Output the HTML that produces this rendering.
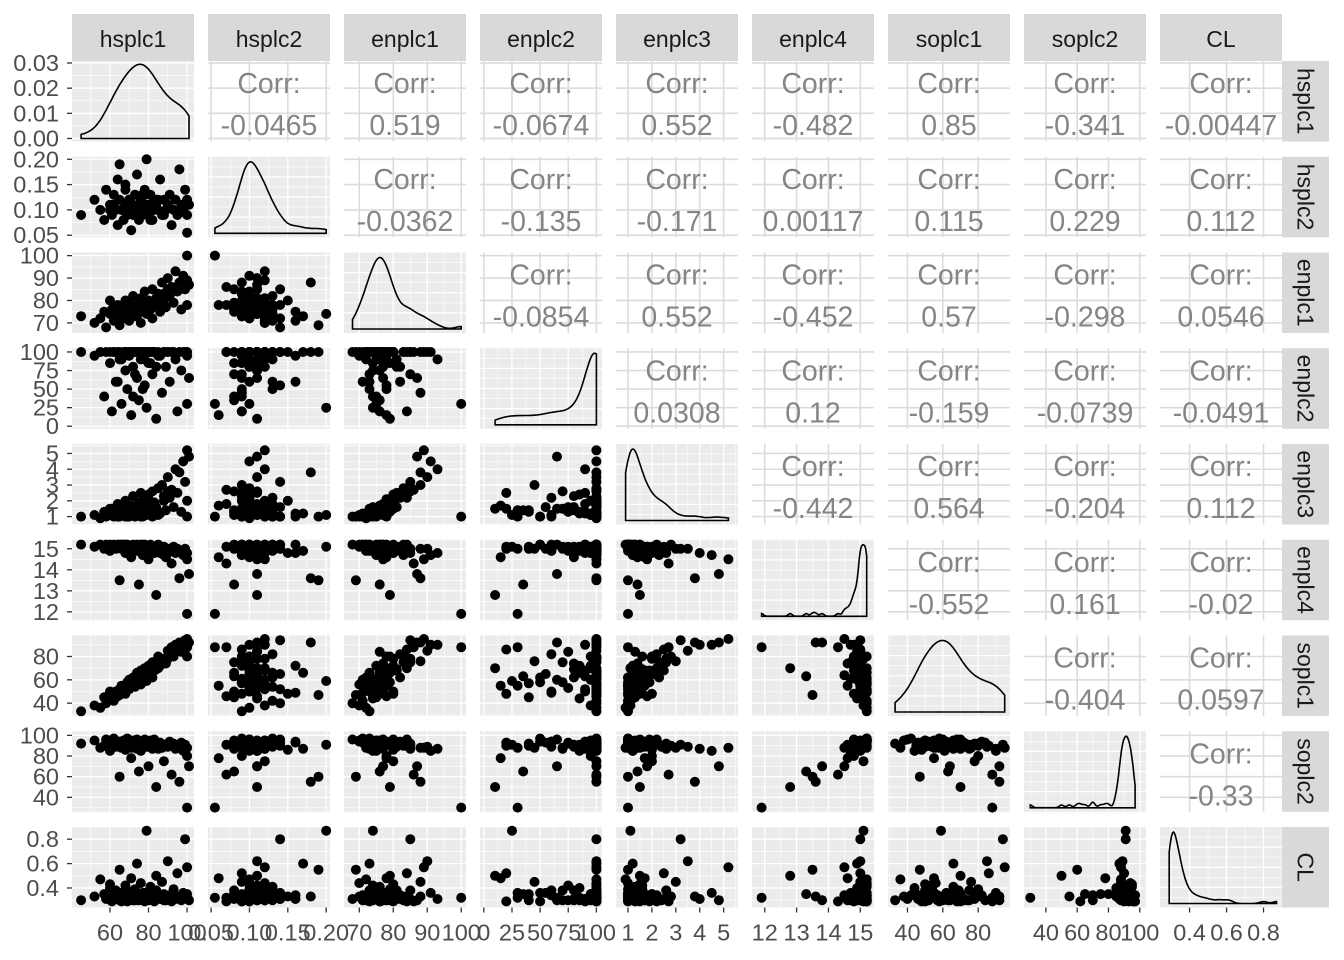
<!DOCTYPE html>
<html><head><meta charset="utf-8"><style>
html,body{margin:0;padding:0;background:#fff;}
svg{display:block;font-family:"Liberation Sans",sans-serif;}
</style></head><body>
<svg id="chart" width="1344" height="960" xmlns="http://www.w3.org/2000/svg"></svg>
<script>
const varNames = ["hsplc1","hsplc2","enplc1","enplc2","enplc3","enplc4","soplc1","soplc2","CL"];
const hsplc1 = [45,52,55,57,58,60,61,62,63,64,65,65,66,67,68,68,69,70,70,71,72,72,73,74,74,75,75,76,76,77,78,78,79,80,80,81,82,82,83,84,85,86,87,88,89,90,91,92,93,94,95,96,97,98,99,100,100,100,101,60,62,66,70,73,75,77,79,81,83,85,68,72,76,80,84,88,64,71,78,90];
const hsplc2 = [0.09,0.12,0.10,0.08,0.14,0.11,0.09,0.13,0.10,0.07,0.12,0.19,0.10,0.08,0.11,0.15,0.09,0.10,0.12,0.06,0.11,0.10,0.13,0.09,0.17,0.10,0.08,0.12,0.11,0.09,0.14,0.10,0.20,0.11,0.09,0.13,0.10,0.08,0.12,0.11,0.10,0.16,0.09,0.12,0.10,0.11,0.13,0.07,0.10,0.12,0.09,0.18,0.11,0.10,0.14,0.055,0.12,0.09,0.11,0.10,0.11,0.10,0.12,0.09,0.10,0.13,0.11,0.08,0.10,0.12,0.14,0.09,0.11,0.10,0.12,0.09,0.16,0.10,0.13,0.11];
const enplc1 = [73,70,72,75,68,74,76,71,73,78,72,69,75,77,74,80,73,76,71,78,75,82,74,77,73,79,76,70,81,75,78,84,74,77,80,76,72,85,78,79,83,75,88,80,77,90,82,86,79,93,84,88,76,91,85,100,89,78,87,80,74,76,75,73,77,78,76,79,80,77,72,74,75,78,81,83,71,76,77,85];
const enplc2 = [100,95,100,40,100,85,20,100,60,100,90,100,30,100,75,100,50,100,95,15,100,80,100,65,100,100,35,100,90,100,55,100,25,100,85,100,100,70,100,10,100,95,45,100,80,100,60,100,100,90,20,100,75,100,100,30,100,95,65,100,100,90,100,70,100,50,100,85,100,95,100,40,100,100,80,100,60,100,90,100];
const enplc3 = [1.0,1.1,0.9,1.3,1.0,1.2,1.5,1.0,1.1,1.8,1.2,1.0,1.4,1.1,1.6,2.0,1.0,1.3,1.2,1.7,1.1,2.3,1.0,1.5,1.2,1.9,1.4,1.0,2.5,1.2,1.6,2.2,1.1,1.8,2.4,1.3,1.0,2.6,1.7,1.5,2.8,1.2,3.0,2.0,1.4,3.5,2.2,2.7,1.6,4.0,2.5,3.8,1.3,4.5,3.2,1.0,5.2,2.0,4.8,1.5,1.1,1.3,1.0,1.5,1.2,1.0,1.7,1.3,1.9,1.1,1.0,1.4,1.2,2.1,1.6,2.3,1.0,1.2,1.8,2.6];
const enplc4 = [15.2,15.1,15.2,15.0,15.2,14.9,15.1,15.2,15.0,15.1,15.2,13.5,15.0,15.2,15.1,14.8,15.2,15.0,15.1,14.6,15.2,15.0,15.1,15.2,14.9,15.0,13.3,15.2,15.1,14.7,15.0,15.2,15.1,14.5,15.0,15.2,14.9,15.0,15.1,12.8,15.2,14.8,15.0,15.1,14.6,15.0,14.9,14.3,15.1,14.8,15.0,13.6,14.9,14.7,15.0,11.9,14.5,14.8,13.8,15.2,15.1,15.2,15.0,15.1,14.9,15.2,15.0,15.1,14.8,15.0,15.2,15.1,15.0,14.9,15.1,14.7,15.2,15.0,15.1,14.8];
const soplc1 = [33,38,36,45,40,44,48,42,50,46,52,47,55,50,53,48,58,52,60,55,57,62,54,60,66,58,63,56,68,61,65,70,59,64,72,66,62,75,68,70,80,72,76,78,74,85,82,88,80,90,86,92,84,90,94,88,95,80,92,50,46,50,55,58,60,62,64,66,68,70,52,57,61,65,69,75,49,56,63,78];
const soplc2 = [92,95,88,90,96,85,93,97,89,91,94,60,88,95,92,86,97,90,93,78,95,91,89,96,87,92,65,94,90,88,93,96,91,70,89,95,92,87,94,50,90,93,88,75,91,89,94,62,92,87,90,55,93,85,91,30,88,80,70,95,93,90,95,88,92,94,89,91,96,87,90,92,85,93,89,91,94,88,90,92];
const CL = [0.30,0.33,0.47,0.35,0.31,0.40,0.29,0.34,0.38,0.32,0.30,0.55,0.36,0.31,0.42,0.33,0.29,0.37,0.30,0.48,0.34,0.31,0.39,0.32,0.60,0.30,0.35,0.44,0.31,0.33,0.36,0.29,0.87,0.34,0.30,0.41,0.32,0.38,0.30,0.50,0.33,0.31,0.45,0.35,0.30,0.62,0.34,0.29,0.39,0.31,0.52,0.33,0.30,0.36,0.80,0.32,0.57,0.35,0.30,0.43,0.31,0.29,0.34,0.30,0.33,0.36,0.30,0.32,0.29,0.35,0.31,0.30,0.33,0.31,0.38,0.30,0.34,0.32,0.30,0.31];
const corrLabels = [
 [null,"-0.0465","0.519","-0.0674","0.552","-0.482","0.85","-0.341","-0.00447"],
 [null,null,"-0.0362","-0.135","-0.171","0.00117","0.115","0.229","0.112"],
 [null,null,null,"-0.0854","0.552","-0.452","0.57","-0.298","0.0546"],
 [null,null,null,null,"0.0308","0.12","-0.159","-0.0739","-0.0491"],
 [null,null,null,null,null,"-0.442","0.564","-0.204","0.112"],
 [null,null,null,null,null,null,"-0.552","0.161","-0.02"],
 [null,null,null,null,null,null,null,"-0.404","0.0597"],
 [null,null,null,null,null,null,null,null,"-0.33"]
];
const axisRanges = [[40.3,103.6],[0.046,0.205],[65.5,101.4],[-3.4,105],[0.5,5.6],[11.6,15.43],[29,98],[26,104],[0.24,0.9]];
const tickValues = [[60,80,100],[0.05,0.10,0.15,0.20],[70,80,90,100],[0,25,50,75,100],[1,2,3,4,5],[12,13,14,15],[40,60,80],[40,60,80,100],[0.4,0.6,0.8]];
const tickLabels = [["60","80","100"],["0.05","0.10","0.15","0.20"],["70","80","90","100"],["0","25","50","75","100"],["1","2","3","4","5"],["12","13","14","15"],["40","60","80"],["40","60","80","100"],["0.4","0.6","0.8"]];
const densTicks = [0,0.01,0.02,0.03];
const densTickLabels = ["0.00","0.01","0.02","0.03"];
const densRange = [-0.0012,0.0308];

const data = [hsplc1,hsplc2,enplc1,enplc2,enplc3,enplc4,soplc1,soplc2,CL];
const svg = document.getElementById('chart');
const NS = "http://www.w3.org/2000/svg";
const X0=72, Y0=61, STEPX=136, STEPY=95.75, PW=122, PH=80.5;
function mk(tag, attrs, parent){const e=document.createElementNS(NS,tag);for(const k in attrs)e.setAttribute(k,attrs[k]);(parent||svg).appendChild(e);return e;}
function sx(c,v){const r=axisRanges[c];return X0+c*STEPX+(v-r[0])/(r[1]-r[0])*PW;}
function sy(r,v){const a=axisRanges[r];return Y0+r*STEPY+PH-(v-a[0])/(a[1]-a[0])*PH;}
function dy(v){return Y0+PH-(v-densRange[0])/(densRange[1]-densRange[0])*PH;}
function minors(t){const m=[];for(let i=0;i<t.length-1;i++)m.push((t[i]+t[i+1])/2);if(t.length>1){m.unshift(t[0]-(t[1]-t[0])/2);m.push(t[t.length-1]+(t[1]-t[0])/2);}return m;}
function kde(arr){const n=arr.length;const mean=arr.reduce((a,b)=>a+b,0)/n;const sd=Math.sqrt(arr.reduce((a,b)=>a+(b-mean)**2,0)/(n-1));const s=[...arr].sort((a,b)=>a-b);const q=p=>{const h=(n-1)*p,l=Math.floor(h);return s[l]+(h-l)*((s[l+1]||s[l])-s[l]);};const iqr=q(0.75)-q(0.25);const bw=0.9*Math.min(sd,iqr/1.34||sd)*Math.pow(n,-0.2);const lo=s[0],hi=s[n-1];const pts=[];for(let i=0;i<=100;i++){const x=lo+(hi-lo)*i/100;let d=0;for(const v of arr)d+=Math.exp(-0.5*((x-v)/bw)**2);d/=n*bw*Math.sqrt(2*Math.PI);pts.push([x,d]);}return pts;}

for(let r=0;r<9;r++){
 for(let c=0;c<9;c++){
  const px=X0+c*STEPX, py=Y0+r*STEPY;
  const g=mk('g',{});
  
  
  const xr=axisRanges[c];
  const inX=v=>v>=xr[0]&&v<=xr[1];
  if(c>r){
   mk('rect',{x:px,y:py,width:PW,height:PH,fill:'#fff'},g);
   for(const t of tickValues[c]) if(inX(t)){const x=sx(c,t);mk('line',{x1:x,x2:x,y1:py,y2:py+PH,stroke:'#dcdcdc','stroke-width':1.6},g);}
   const yt = r===0?densTicks:tickValues[r];
   for(const t of yt){const y=r===0?dy(t):sy(r,t);if(y>=py&&y<=py+PH)mk('line',{x1:px,x2:px+PW,y1:y,y2:y,stroke:'#dcdcdc','stroke-width':1.6},g);}
   const t1=mk('text',{x:px+PW/2,y:py+32,'text-anchor':'middle','font-size':28.5,fill:'#858585'},g);t1.textContent='Corr:';
   
   
   const t2=mk('text',{x:px+PW/2,y:py+74,'text-anchor':'middle','font-size':28.5,fill:'#858585'},g);t2.textContent=corrLabels[r][c];
   
   
   continue;
  }
  mk('rect',{x:px,y:py,width:PW,height:PH,fill:'#ebebeb'},g);
  const tx=tickValues[c];
  for(const t of minors(tx)) if(inX(t)){const x=sx(c,t);mk('line',{x1:x,x2:x,y1:py,y2:py+PH,stroke:'#fff','stroke-width':0.6},g);}
  for(const t of tx) if(inX(t)){const x=sx(c,t);mk('line',{x1:x,x2:x,y1:py,y2:py+PH,stroke:'#fff','stroke-width':1.3},g);}
  const yt = (r===0)?densTicks:(c===r?null:tickValues[r]);
  if(yt){
   const yf=r===0?dy:(v=>sy(r,v));
   for(const t of minors(yt)){const y=yf(t);if(y>=py&&y<=py+PH)mk('line',{x1:px,x2:px+PW,y1:y,y2:y,stroke:'#fff','stroke-width':0.6},g);}
   for(const t of yt){const y=yf(t);if(y>=py&&y<=py+PH)mk('line',{x1:px,x2:px+PW,y1:y,y2:y,stroke:'#fff','stroke-width':1.3},g);}
  } else {
   for(let i=1;i<8;i++){const y=py+PH*i/8;mk('line',{x1:px,x2:px+PW,y1:y,y2:y,stroke:'#fff','stroke-width':i%2?0.6:1.3},g);}
  }
  if(c===r){
   const pts=kde(data[c]);
   const mx=Math.max(...pts.map(p=>p[1]));
   const yf = r===0 ? (d=>dy(d)) : (d=>py+PH-4-d/mx*(PH-9));
   let dstr='M'+sx(c,pts[0][0]).toFixed(1)+','+yf(0).toFixed(1);
   for(const p of pts) dstr+='L'+sx(c,p[0]).toFixed(1)+','+yf(p[1]).toFixed(1);
   dstr+='L'+sx(c,pts[pts.length-1][0]).toFixed(1)+','+yf(0).toFixed(1)+'Z';
   const path=mk('path',{d:dstr,fill:'none',stroke:'#000','stroke-width':1.6},g);
   
   
  } else {
   for(let i=0;i<data[c].length;i++){
    const pt=mk('circle',{cx:sx(c,data[c][i]).toFixed(1),cy:sy(r,data[r][i]).toFixed(1),r:5,fill:'#000'},g);
    
    
   }
  }
 }
}
for(let c=0;c<9;c++){
 const px=X0+c*STEPX;
 const rc=mk('rect',{x:px,y:14,width:PW,height:47,fill:'#d9d9d9'});
 
 
 const t=mk('text',{x:px+PW/2,y:47,'text-anchor':'middle','font-size':23,fill:'#1a1a1a'});t.textContent=varNames[c];
 
 
}
for(let r=0;r<9;r++){
 const py=Y0+r*STEPY;
 const rc=mk('rect',{x:1282,y:py,width:47,height:PH,fill:'#d9d9d9'});
 
 
 const cy=py+PH/2;
 const t=mk('text',{x:1305.5,y:cy+8,'text-anchor':'middle','font-size':23,fill:'#1a1a1a',transform:'rotate(90 1305.5 '+cy+')'});
 t.textContent=varNames[r];
 
 
}
for(let r=0;r<9;r++){
 const ticks=r===0?densTicks:tickValues[r];
 const labels=r===0?densTickLabels:tickLabels[r];
 ticks.forEach((t,i)=>{
  const y=r===0?dy(t):sy(r,t);
  mk('line',{x1:67,x2:72,y1:y,y2:y,stroke:'#333','stroke-width':1.3});
  const tx=mk('text',{x:59,y:y+8,'text-anchor':'end','font-size':23.5,fill:'#4d4d4d'});tx.textContent=labels[i];
  
  
 });
}
const by=Y0+8*STEPY+PH;
for(let c=0;c<9;c++){
 tickValues[c].forEach((t,i)=>{
  const x=sx(c,t);
  mk('line',{x1:x,x2:x,y1:by,y2:by+5,stroke:'#333','stroke-width':1.3});
  const tx=mk('text',{x:x,y:by+33,'text-anchor':'middle','font-size':23.5,fill:'#4d4d4d'});tx.textContent=tickLabels[c][i];
  
  
 });
}
</script>
</body></html>
